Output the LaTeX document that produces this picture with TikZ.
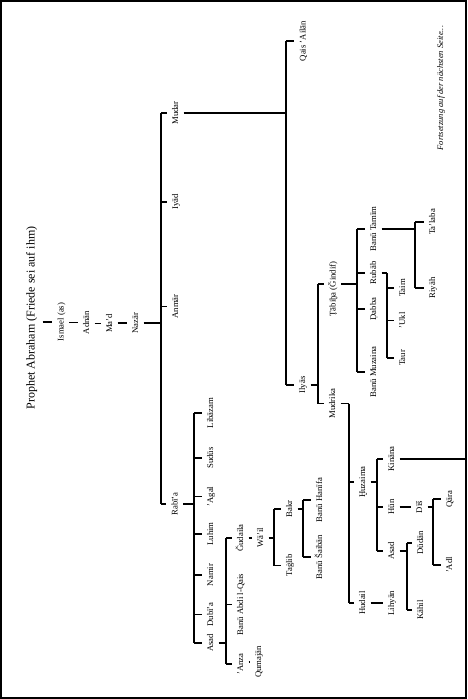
\documentclass[tikz,border=0pt]{standalone}
\usepackage{fontspec}
\setmainfont{Liberation Serif}
\newcommand\Tk[2]{\draw (#2.north -| #1) -- ([xshift=-4pt]#2.north);}
\newcommand\Ot[2]{\draw ([xshift=3pt]#1.south) -- (#1.south -| #2);}
\newcommand\Vb[3]{\draw (#2.north -| #1) -- (#3.north -| #1);}
\newcommand\Lk[2]{\draw ([xshift=3pt]#1.south |- #2.north) -- ([xshift=-4pt]#2.north);}
\begin{document}
\begin{tikzpicture}[x=1pt,y=-1pt,line width=1.1pt,
  nm/.style={rotate=90,anchor=base,inner sep=0pt,font=\fontsize{8.7}{10}\selectfont,text height=6.5pt,text depth=2pt},
  ttlstyle/.style={rotate=90,anchor=base,inner sep=0pt,font=\fontsize{12}{14}\selectfont,text height=9pt,text depth=3pt},
  notestyle/.style={rotate=90,anchor=base,inner sep=0pt,font=\fontsize{8.5}{10}\selectfont\itshape},
  frame/.style={line width=1.5pt}]
\useasboundingbox (0,0) rectangle (468,699);
\draw[frame] (0.8,0.8) rectangle (466.2,698.2);

% bar positions
\coordinate (b1) at (161,0);
\coordinate (b2) at (286,0);
\coordinate (b3) at (318,0);
\coordinate (b4) at (357,0);
\coordinate (b5) at (387,0);
\coordinate (b6) at (415,0);
\coordinate (b7) at (349,0);
\coordinate (b8) at (377,0);
\coordinate (b9) at (433,0);
\coordinate (b10) at (407,0);
\coordinate (b11) at (194,0);
\coordinate (b12) at (226,0);
\coordinate (b13) at (274,0);
\coordinate (b14) at (303,0);
\coordinate (frR) at (466.2,0);
\coordinate (tabj) at (0,284);

% nodes
\node[ttlstyle] (ttl) at (34.5,318) {Prophet Abraham (Friede sei auf ihm)};
\node[nm] (ism) at (63.5,322) {Ismael (as)};
\node[nm] (adn) at (89,322.5) {Adnān};
\node[nm] (mad) at (112,323.5) {Ma'd};
\node[nm] (naz) at (138,323) {Nazār};
\node[nm] (mud) at (178,113) {Mudar};
\node[nm] (iya) at (178,202) {Iyād};
\node[nm] (anm) at (178,306.5) {Anmār};
\node[nm] (rab) at (177.5,504) {Rabī'a};
\node[nm] (qai) at (305.5,41) {Qais 'Ailān};
\node[nm] (ily) at (305,385) {Ilyās};
\node[nm] (tab) at (335.5,289) {Ṭābiḫa (Ǧindif)};
\node[nm] (mudr) at (335,403.5) {Mudrika};
\node[nm] (bta) at (376,229) {Banū Tamīm};
\node[nm] (rub) at (376,273) {Rubāb};
\node[nm] (dab) at (376,309) {Ḍabba};
\node[nm] (bmu) at (376,372) {Banū Muzaina};
\node[nm] (taim) at (405,288) {Taim};
\node[nm] (ukl) at (405,320.5) {'Ukl};
\node[nm] (taur) at (405,358) {Taur};
\node[nm] (tal) at (435,222) {Ta'laba};
\node[nm] (riy) at (435,288) {Riyāh};
\node[nm] (huz) at (365,482) {Ḫuzaima};
\node[nm] (hud) at (365,603) {Hudail};
\node[nm] (kin) at (394,459) {Kināna};
\node[nm] (hun) at (394,507) {Hūn};
\node[nm] (asdb) at (394,551) {Asad};
\node[nm] (dis) at (422,507) {Dīš};
\node[nm] (qar) at (452,499) {Qāra};
\node[nm] (adl) at (452,565) {'Adl};
\node[nm] (dud) at (423,543) {Dūdān};
\node[nm] (kah) at (423,610) {Kāhil};
\node[nm] (lih) at (394,603) {Lihyān};
\node[nm] (lib) at (213,413) {Libāzam};
\node[nm] (sud) at (213,458) {Sudūs};
\node[nm] (aga) at (213,496.5) {'Agal};
\node[nm] (luh) at (213,534) {Luhim};
\node[nm] (nam) at (213,575) {Namir};
\node[nm] (dub) at (213,614.5) {Dubī'a};
\node[nm] (asda) at (213,643) {Asad};
\node[nm] (gud) at (243,538) {Ǧudaila};
\node[nm] (bab) at (243,604.5) {Banū Abdi l-Qais};
\node[nm] (anz) at (243,664) {'Anza};
\node[nm] (qum) at (261,662) {Qumajān};
\node[nm] (wai) at (263,538) {Wā'il};
\node[nm] (bak) at (292,509) {Bakr};
\node[nm] (tag) at (292,565.5) {Taġlib};
\node[nm] (bha) at (322,500) {Banū Hanīfa};
\node[nm] (bsa) at (322,557) {Banū Šaibān};
\node[notestyle] (note) at (443,88) {Fortsetzung auf der nächsten Seite...};

% connectors
\draw ([xshift=4.5pt]ttl.south |- ism.north) -- ([xshift=-4pt]ism.north);
\Lk{ism}{adn} \Lk{adn}{mad} \Lk{mad}{naz}
\Ot{naz}{b1} \Vb{b1}{mud}{rab}
\Tk{b1}{mud} \Tk{b1}{iya} \Tk{b1}{anm} \Tk{b1}{rab}
% Mudar
\Ot{mud}{b2} \Vb{b2}{qai}{ily}
\Tk{b2}{qai} \Tk{b2}{ily}
\Ot{ily}{b3}
\draw (b3 |- tabj) -- (mudr.north -| b3);
\draw (b3 |- tabj) -- ([xshift=-4pt]tab.north |- tabj);
\Tk{b3}{mudr}
\draw ([xshift=3pt]tab.south |- tabj) -- (b4 |- tabj);
\Vb{b4}{bta}{bmu}
\Tk{b4}{bta} \Tk{b4}{rub} \Tk{b4}{dab} \Tk{b4}{bmu}
\Ot{rub}{b5} \Vb{b5}{rub}{taur}
\Tk{b5}{taim} \Tk{b5}{ukl} \Tk{b5}{taur}
\Ot{bta}{b6} \Vb{b6}{tal}{riy}
\Tk{b6}{tal} \Tk{b6}{riy}
\Ot{mudr}{b7} \Vb{b7}{mudr}{hud}
\Tk{b7}{huz} \Tk{b7}{hud}
\Ot{huz}{b8} \Vb{b8}{kin}{asdb}
\Tk{b8}{kin} \Tk{b8}{hun} \Tk{b8}{asdb}
\Ot{kin}{frR}
\Lk{hun}{dis}
\Ot{dis}{b9} \Vb{b9}{qar}{adl}
\Tk{b9}{qar} \Tk{b9}{adl}
\Ot{asdb}{b10} \Vb{b10}{dud}{kah}
\Tk{b10}{dud} \Tk{b10}{kah}
\Lk{hud}{lih}
% Rabi'a
\Ot{rab}{b11} \Vb{b11}{lib}{asda}
\Tk{b11}{lib} \Tk{b11}{sud} \Tk{b11}{aga} \Tk{b11}{luh} \Tk{b11}{nam} \Tk{b11}{dub} \Tk{b11}{asda}
\Ot{asda}{b12} \Vb{b12}{gud}{anz}
\Tk{b12}{gud} \Tk{b12}{bab} \Tk{b12}{anz}
\Lk{anz}{qum}
\Lk{gud}{wai}
\Ot{wai}{b13} \Vb{b13}{bak}{tag}
\Tk{b13}{bak} \Tk{b13}{tag}
\Ot{bak}{b14} \Vb{b14}{bha}{bsa}
\Tk{b14}{bha} \Tk{b14}{bsa}
\end{tikzpicture}
\end{document}
